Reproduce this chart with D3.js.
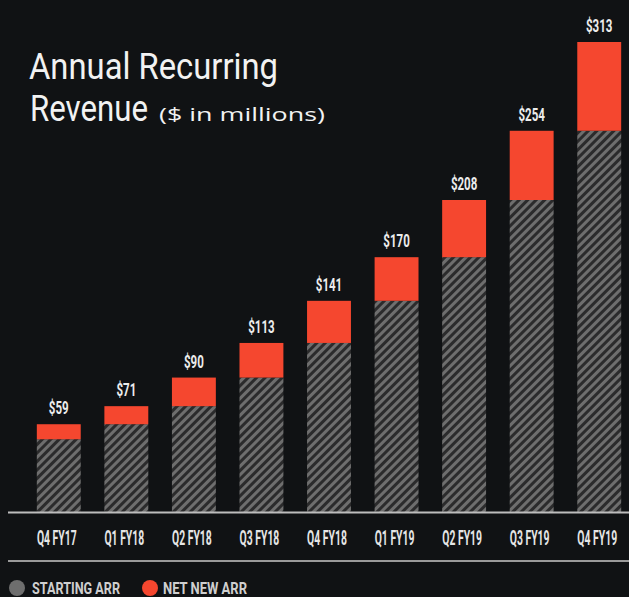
<!DOCTYPE html>
<html>
<head>
<meta charset="utf-8">
<script src="https://cdn.jsdelivr.net/npm/d3@7"></script>
<style>
  html, body { margin: 0; padding: 0; background: #101214; }
  svg { display: block; }
</style>
</head>
<body>
<div id="chart"></div>
<script>
// Quarters and ARR ($M)
const quarters = ["Q4 FY17", "Q1 FY18", "Q2 FY18", "Q3 FY18", "Q4 FY18", "Q1 FY19", "Q2 FY19", "Q3 FY19", "Q4 FY19"];
const startingArr = [49, 59, 71, 90, 113, 141, 170, 208, 254];
const netNewArr = [10, 12, 19, 23, 28, 29, 38, 46, 59];
const totalLabels = ["$59", "$71", "$90", "$113", "$141", "$170", "$208", "$254", "$313"];

const width = 629, height = 597;
const red = "#f5472f";
const condensed = "Roboto, 'Liberation Sans', sans-serif";

const svg = d3.select("#chart").append("svg")
	.attr("width", width)
	.attr("height", height);

svg.append("rect").attr("width", width).attr("height", height).attr("fill", "#101214");

// hatch pattern for starting ARR
const defs = svg.append("defs");
const pat = defs.append("pattern")
	.attr("id", "hatch")
	.attr("patternUnits", "userSpaceOnUse")
	.attr("width", 6)
	.attr("height", 6)
	.attr("patternTransform", "rotate(45)");
pat.append("rect").attr("width", 6).attr("height", 6).attr("fill", "#2b2b2c");
pat.append("rect").attr("width", 3).attr("height", 6).attr("fill", "#6e6e6e");

const x = d3.scaleBand()
	.domain(quarters)
	.range([25, 633])
	.paddingInner(0.35)
	.paddingOuter(0.175);

const y = d3.scaleLinear()
	.domain([0, 313])
	.range([513, 42]);

const rows = quarters.map((q, i) => ({q, start: startingArr[i], net: netNewArr[i], label: totalLabels[i]}));

// starting ARR
svg.selectAll(".start")
	.data(rows)
	.enter().append("rect")
	.attr("class", "start")
	.attr("x", d => x(d.q))
	.attr("width", x.bandwidth())
	.attr("y", d => y(d.start))
	.attr("height", d => y(0) - y(d.start))
	.attr("fill", "url(#hatch)");

// net new ARR
svg.selectAll(".net")
	.data(rows)
	.enter().append("rect")
	.attr("class", "net")
	.attr("x", d => x(d.q))
	.attr("width", x.bandwidth())
	.attr("y", d => y(d.start + d.net))
	.attr("height", d => y(d.start) - y(d.start + d.net))
	.attr("fill", red);

// total labels (condensed look via horizontal scale)
svg.selectAll(".total")
	.data(rows)
	.enter().append("g")
	.attr("transform", d => `translate(${x(d.q) + x.bandwidth() / 2},${y(d.start + d.net) - 10}) scale(0.64,1)`)
	.append("text")
	.attr("text-anchor", "middle")
	.attr("fill", "#ececec")
	.attr("font-family", condensed)
	.attr("font-weight", "bold")
	.attr("font-size", 18)
	.text(d => d.label);

// baseline + lower rule
svg.append("line").attr("x1", 8).attr("x2", width).attr("y1", 512.5).attr("y2", 512.5)
	.attr("stroke", "#bdbdbd").attr("stroke-width", 2);
svg.append("line").attr("x1", 8).attr("x2", width).attr("y1", 561).attr("y2", 561)
	.attr("stroke", "#9a9a9a").attr("stroke-width", 2);

// x axis labels
const xAxis = svg.append("g")
	.attr("transform", "translate(0,513)")
	.call(d3.axisBottom(x).tickSize(0).tickPadding(0));
xAxis.select(".domain").remove();
xAxis.selectAll(".tick text").remove();
xAxis.selectAll(".tick").append("g")
	.attr("transform", "translate(-2,32) scale(0.52,1)")
	.append("text")
	.attr("text-anchor", "middle")
	.attr("fill", "#e6e6e6")
	.attr("font-family", condensed)
	.attr("font-weight", "bold")
	.attr("font-size", 20)
	.text(d => d);

// title
svg.append("text")
	.attr("x", 29).attr("y", 79)
	.attr("fill", "#f2f2f2")
	.attr("font-family", condensed)
	.attr("font-size", 37)
	.attr("textLength", 249)
	.attr("lengthAdjust", "spacingAndGlyphs")
	.text("Annual Recurring");
svg.append("text")
	.attr("x", 30).attr("y", 121)
	.attr("fill", "#f2f2f2")
	.attr("font-family", condensed)
	.attr("font-size", 37)
	.attr("textLength", 118)
	.attr("lengthAdjust", "spacingAndGlyphs")
	.text("Revenue");
svg.append("text")
	.attr("x", 159).attr("y", 121)
	.attr("fill", "#f2f2f2")
	.attr("font-family", "'Open Sans', sans-serif")
	.attr("font-size", 18)
	.attr("textLength", 166)
	.attr("lengthAdjust", "spacingAndGlyphs")
	.text("($ in millions)");

// legend
const legendItems = [
	{name: "STARTING ARR", color: "#6e6e6e", cx: 17, tx: 32, w: 88},
	{name: "NET NEW ARR", color: red, cx: 150, tx: 163, w: 84}
];
const lg = svg.selectAll(".legend")
	.data(legendItems)
	.enter().append("g")
	.attr("class", "legend");
lg.append("circle")
	.attr("cx", d => d.cx).attr("cy", 588).attr("r", 8)
	.attr("fill", d => d.color);
lg.append("text")
	.attr("x", d => d.tx).attr("y", 594)
	.attr("fill", "#cfcfcf")
	.attr("font-family", condensed)
	.attr("font-weight", "bold")
	.attr("font-size", 16)
	.attr("textLength", d => d.w)
	.attr("lengthAdjust", "spacingAndGlyphs")
	.text(d => d.name);
</script>
</body>
</html>
